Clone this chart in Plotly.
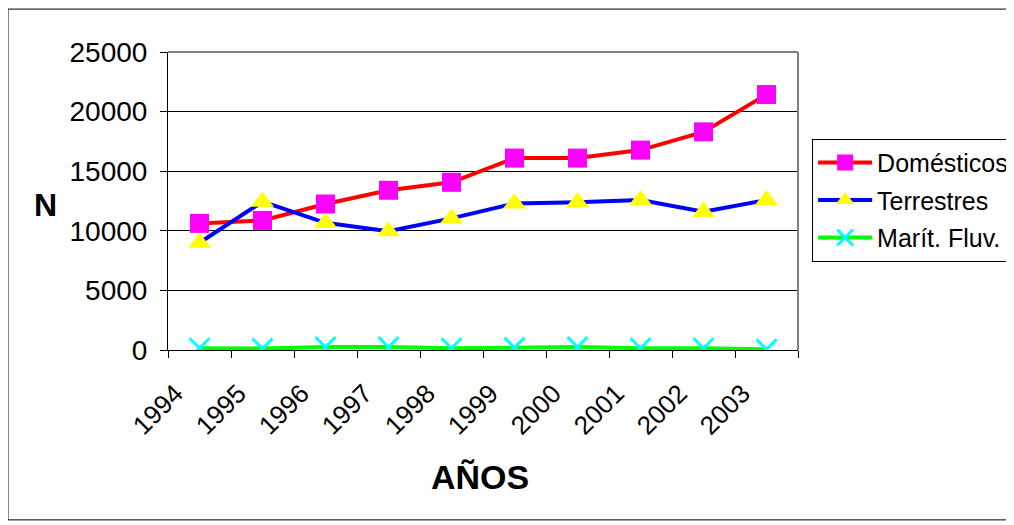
import plotly.graph_objects as go

years = ["1994", "1995", "1996", "1997", "1998", "1999", "2000", "2001", "2002", "2003"]
domesticos = [10620, 10870, 12250, 13400, 14070, 16100, 16100, 16770, 18300, 21430]
terrestres = [9000, 12440, 10670, 9970, 11040, 12300, 12390, 12580, 11600, 12580]
marit_fluv = [150, 120, 250, 250, 150, 200, 250, 150, 150, 50]

FONT = "Liberation Sans, Arial, sans-serif"

fig = go.Figure()
fig.add_trace(go.Scatter(
    x=years, y=domesticos, name="Domésticos", mode="lines+markers", legendgroup="a",
    line=dict(color="#FF0000", width=4),
    marker=dict(symbol="square", size=19, color="#FF00FF", line=dict(width=0)),
))
fig.add_trace(go.Scatter(
    x=years, y=terrestres, name="Terrestres", mode="lines+markers", legendgroup="b",
    line=dict(color="#0000FF", width=4),
    marker=dict(symbol="triangle-up", size=20, color="#FFFF00", line=dict(width=0)),
))
fig.add_trace(go.Scatter(
    x=years, y=marit_fluv, name="Marít. Fluv.", mode="lines+markers", legendgroup="c",
    line=dict(color="#00FF00", width=4),
    marker=dict(symbol="x-thin", size=20, color="#00FFFF", line=dict(color="#00FFFF", width=3)),
))

fig.update_layout(
    width=1014, height=525,
    margin=dict(l=160, r=224, t=44, b=183),
    paper_bgcolor="white", plot_bgcolor="white",
    font=dict(family=FONT, color="black", size=26),
    showlegend=True,
    legend=dict(
        xref="container", yref="container",
        x=0.793, y=0.751, xanchor="left", yanchor="top",
        bordercolor="black", borderwidth=1, bgcolor="white",
        font=dict(family=FONT, size=25, color="black"),
        itemwidth=54, tracegroupgap=2,
    ),
    xaxis=dict(
        type="category", range=[-0.5, 9.5], tickson="boundaries",
        ticks="outside", ticklen=7, tickcolor="black", tickwidth=1,
        showline=True, linecolor="black", linewidth=1,
        showgrid=False, zeroline=False, tickangle=-45,
        ticklabelstandoff=17, ticklabelshift=-24,
        tickfont=dict(family=FONT, size=26, color="black"),
    ),
    yaxis=dict(
        range=[0, 25000], dtick=5000, tickformat="d",
        ticks="outside", ticklen=7, tickcolor="black", tickwidth=1,
        ticklabelstandoff=7,
        showline=True, linecolor="black", linewidth=1,
        showgrid=True, gridcolor="black", gridwidth=1, zeroline=False,
        tickfont=dict(family=FONT, size=28, color="black"),
    ),
    shapes=[
        dict(type="rect", xref="paper", yref="paper", x0=-0.254, x1=1.3365, y0=-0.570, y1=1.144,
             line=dict(color="black", width=1), fillcolor="rgba(0,0,0,0)", layer="below"),
        dict(type="line", xref="paper", yref="paper", x0=0, x1=1, y0=1, y1=1,
             line=dict(color="#808080", width=2), layer="above"),
        dict(type="line", xref="paper", yref="paper", x0=1, x1=1, y0=0, y1=1,
             line=dict(color="#808080", width=2), layer="above"),
    ],
    annotations=[
        dict(text="<b>N</b>", xref="paper", yref="paper", x=-0.1937, y=0.487,
             xanchor="center", yanchor="middle",
             showarrow=False, font=dict(family=FONT, size=32, color="black")),
        dict(text="<b>AÑOS</b>", xref="paper", yref="paper", x=0.496, y=-0.426,
             xanchor="center", yanchor="middle",
             showarrow=False, font=dict(family=FONT, size=34, color="black")),
    ],
)

fig.write_html("out.html")
